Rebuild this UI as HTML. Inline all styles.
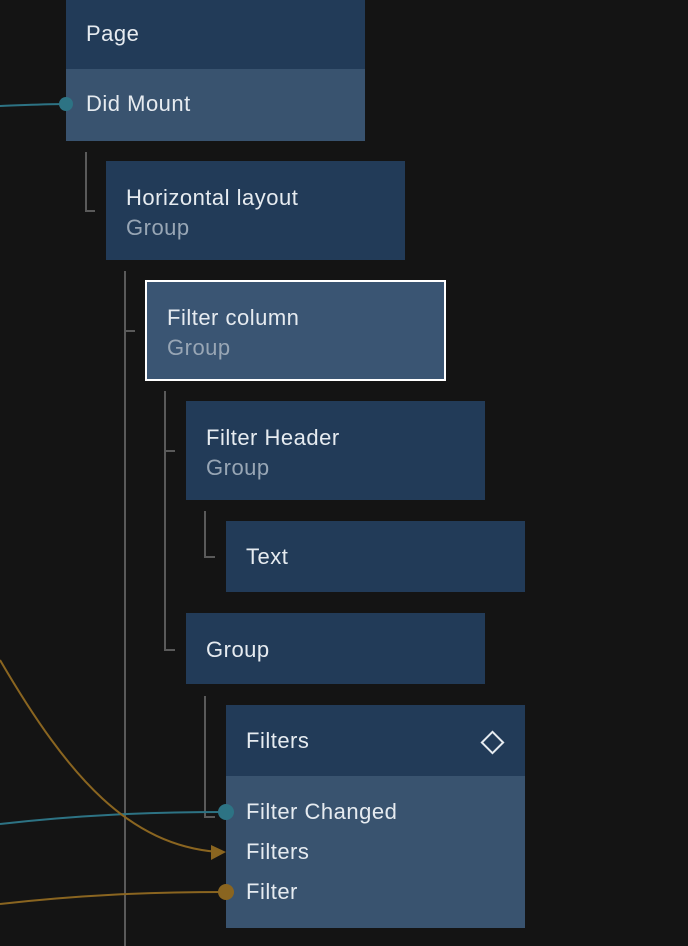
<!DOCTYPE html>
<html><head><style>
body{margin:0;width:688px;height:946px;background:#141414;overflow:hidden;position:relative;font-family:"Liberation Sans",sans-serif;}
.n{position:absolute;background:#223b58;color:#e6ebf0;font-size:22px;letter-spacing:0.5px;line-height:30px;}
.t{position:absolute;left:20px;white-space:nowrap;}
.s{color:#98a6b5;}
.b{position:absolute;background:#39536f;}
svg{position:absolute;left:0;top:0;}
</style></head><body>
<svg width="688" height="946">
<g stroke="#5a5a5a" stroke-width="2" fill="none">
<path d="M86 152V211H95"/>
<path d="M125 271V946M125 331H135"/>
<path d="M165 391V650H175M165 451H175"/>
<path d="M205 511V557H215"/>
<path d="M205 696V817H215"/>
</g>
</svg>
<div class="n" style="left:66px;top:0;width:299px;height:141px;">
<div class="t" style="top:19px">Page</div>
<div class="b" style="left:0;top:69px;width:299px;height:72px;"><div class="t" style="top:20px">Did Mount</div></div>
</div>
<div class="n" style="left:106px;top:161px;width:299px;height:99px;">
<div class="t" style="top:22px">Horizontal layout<br><span class="s">Group</span></div></div>
<div class="n" style="left:145px;top:280px;width:297px;height:97px;background:#3a5573;border:2px solid #fff;">
<div class="t" style="top:21px">Filter column<br><span class="s">Group</span></div></div>
<div class="n" style="left:186px;top:401px;width:299px;height:99px;">
<div class="t" style="top:22px">Filter Header<br><span class="s">Group</span></div></div>
<div class="n" style="left:226px;top:521px;width:299px;height:71px;">
<div class="t" style="top:21px">Text</div></div>
<div class="n" style="left:186px;top:613px;width:299px;height:71px;">
<div class="t" style="top:22px">Group</div></div>
<div class="n" style="left:226px;top:705px;width:299px;height:223px;">
<div class="t" style="top:21px">Filters</div>
<div style="position:absolute;left:258px;top:29px;width:13px;height:13px;border:2px solid #e6ebf0;transform:rotate(45deg);"></div>
<div class="b" style="left:0;top:71px;width:299px;height:152px;">
<div class="t" style="top:16px;line-height:40px;">Filter Changed<br>Filters<br>Filter</div></div>
</div>
<svg width="688" height="946">
<g fill="none" stroke-width="2">
<path d="M0 106C30 105 45 104 66 104" stroke="#2d7384"/>
<path d="M0 824C80 815 150 812 226 812" stroke="#2d7384"/>
<path d="M0 660C70 780 130 845 218 852" stroke="#8a6520"/>
<path d="M0 904C80 895 150 892 226 892" stroke="#8a6520"/>
</g>
<circle cx="66" cy="104" r="7" fill="#2d7384"/>
<circle cx="226" cy="812" r="8" fill="#2d7384"/>
<circle cx="226" cy="892" r="8" fill="#8a6520"/>
<path d="M211 845L226 852L211 860Z" fill="#8a6520"/>
</svg>
</body></html>
